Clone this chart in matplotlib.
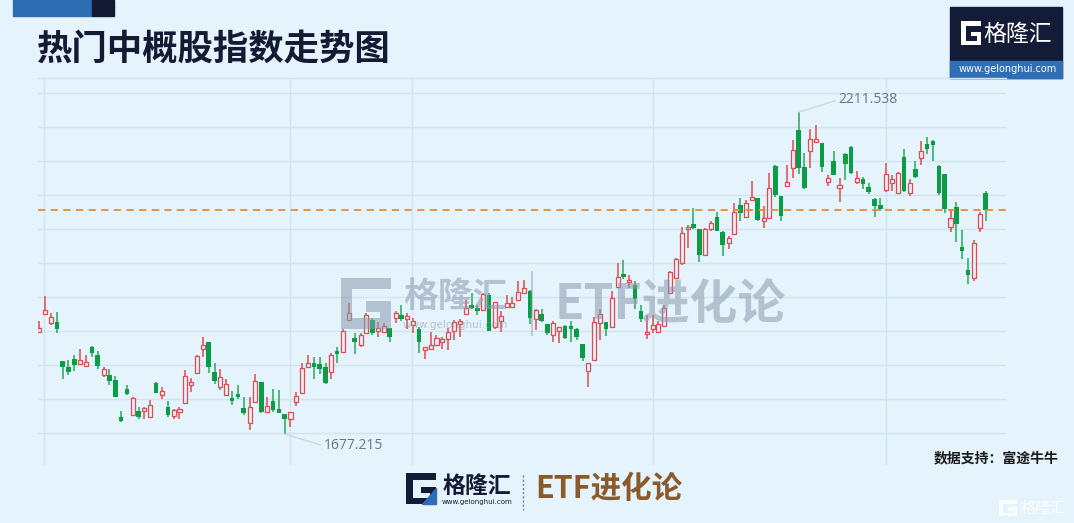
import numpy as np
import matplotlib.pyplot as plt
from matplotlib.patches import Rectangle, Polygon

plt.rcParams['font.family'] = ['Noto Sans CJK SC', 'DejaVu Sans']

# daily OHLC of the index
opens = [1847.2, 1876.0, 1862.1, 1863.8, 1799.0, 1787.9, 1801.2, 1794.0, 1789.6, 1821.7,
         1809.0, 1774.6, 1775.2, 1766.9, 1704.9, 1752.5, 1709.3, 1715.9, 1714.8, 1705.4,
         1761.4, 1742.5, 1722.0, 1707.1, 1714.3, 1728.1, 1758.0, 1779.1, 1818.4, 1829.5,
         1779.6, 1755.8, 1741.4, 1736.4, 1743.6, 1720.4, 1696.0, 1729.8, 1763.6, 1713.7,
         1732.0, 1718.7, 1709.9, 1701.6, 1730.9, 1744.7, 1787.9, 1795.6, 1793.4, 1789.0,
         1780.1, 1815.0, 1813.4, 1866.0, 1836.6, 1825.5, 1844.4, 1866.5, 1847.7, 1846.6,
         1852.7, 1869.8, 1875.4, 1867.6, 1857.7, 1852.1, 1816.7, 1817.8, 1825.5, 1830.0,
         1835.5, 1847.7, 1859.9, 1876.5, 1892.0, 1887.0, 1883.1, 1908.6, 1854.3, 1865.4,
         1888.7, 1888.7, 1899.7, 1911.9, 1915.2, 1867.6, 1876.5, 1859.9, 1841.1, 1848.8,
         1856.6, 1856.6, 1852.1, 1826.7, 1781.8, 1800.1, 1862.1, 1863.8, 1854.9, 1921.9,
         1943.0, 1929.1, 1924.1, 1882.0, 1843.3, 1852.2, 1846.6, 1856.6, 1910.8, 1935.8,
         1961.5, 2017.2, 2026.0, 2017.7, 1974.5, 2018.3, 2037.6, 2012.7, 1993.9, 2009.4,
         2057.6, 2037.1, 2066.4, 2069.2, 2031.6, 2035.4, 2121.8, 2072.0, 2089.1, 2118.5,
         2182.2, 2120.2, 2147.3, 2161.7, 2160.0, 2095.2, 2130.1, 2086.4, 2142.3, 2154.5,
         2095.2, 2101.3, 2088.0, 2067.6, 2057.0, 2082.5, 2093.6, 2078.1, 2136.8, 2077.0,
         2116.8, 2135.1, 2158.4, 2164.4, 2121.8, 2109.1, 2021.6, 2053.7, 1987.3, 1949.6,
         1935.8, 2018.8, 2078.1]
highs = [1865.4, 1906.4, 1877.6, 1879.8, 1799.0, 1800.1, 1809.0, 1817.8, 1807.9, 1823.4,
         1815.1, 1787.9, 1784.6, 1773.5, 1715.9, 1758.0, 1738.1, 1722.6, 1722.6, 1733.7,
         1763.6, 1754.7, 1731.5, 1719.3, 1722.6, 1783.5, 1770.2, 1809.0, 1837.8, 1830.6,
         1794.6, 1784.6, 1769.1, 1749.2, 1758.0, 1739.2, 1738.1, 1776.3, 1763.6, 1738.1,
         1752.5, 1749.7, 1709.9, 1713.2, 1746.9, 1795.6, 1808.9, 1804.5, 1804.5, 1794.5,
         1812.3, 1822.2, 1852.1, 1895.3, 1844.9, 1844.4, 1877.6, 1870.4, 1863.2, 1861.0,
         1852.7, 1881.5, 1890.9, 1877.6, 1869.3, 1854.3, 1822.2, 1846.6, 1841.1, 1837.7,
         1853.2, 1866.5, 1867.6, 1899.7, 1910.8, 1890.9, 1911.9, 1910.8, 1897.0, 1880.9,
         1908.6, 1905.3, 1930.8, 1933.0, 1916.4, 1885.3, 1885.3, 1859.9, 1865.4, 1855.5,
         1857.7, 1865.4, 1853.3, 1826.7, 1795.1, 1871.0, 1885.4, 1863.8, 1914.2, 1960.7,
         1966.2, 1941.8, 1930.8, 1890.9, 1874.3, 1874.3, 1864.3, 1892.0, 1948.5, 1969.0,
         2021.6, 2024.9, 2052.0, 2017.7, 2018.8, 2031.6, 2046.0, 2014.9, 2006.6, 2061.5,
         2069.2, 2065.9, 2097.5, 2069.2, 2056.5, 2110.2, 2123.5, 2072.0, 2123.5, 2165.6,
         2211.538, 2143.4, 2183.3, 2191.0, 2160.0, 2108.0, 2147.8, 2102.4, 2143.4, 2155.6,
         2113.5, 2103.5, 2093.6, 2068.7, 2068.7, 2126.8, 2107.4, 2113.0, 2150.1, 2101.3,
         2130.1, 2163.3, 2171.1, 2165.6, 2124.6, 2109.1, 2050.4, 2062.6, 2016.1, 1969.0,
         1999.4, 2046.0, 2080.3]
lows = [1844.4, 1876.0, 1857.7, 1844.4, 1768.0, 1775.7, 1782.4, 1793.5, 1789.0, 1805.6,
        1784.6, 1771.3, 1758.6, 1738.1, 1697.7, 1741.4, 1709.3, 1701.6, 1701.6, 1704.9,
        1744.7, 1734.8, 1704.9, 1701.6, 1701.6, 1727.0, 1747.0, 1778.0, 1804.5, 1778.0,
        1760.2, 1750.3, 1741.4, 1724.8, 1734.8, 1709.3, 1683.8, 1729.2, 1711.5, 1712.6,
        1714.3, 1711.5, 1677.215, 1688.3, 1724.2, 1744.7, 1786.8, 1768.0, 1776.8, 1760.2,
        1769.1, 1795.6, 1813.4, 1865.4, 1809.5, 1822.2, 1844.4, 1842.2, 1838.8, 1845.5,
        1830.0, 1862.1, 1864.3, 1852.1, 1844.4, 1812.3, 1802.3, 1817.8, 1824.4, 1817.8,
        1816.7, 1833.3, 1837.7, 1875.4, 1885.3, 1875.4, 1883.1, 1848.8, 1852.1, 1846.6,
        1887.6, 1886.5, 1898.6, 1909.7, 1859.9, 1849.9, 1863.2, 1841.1, 1830.0, 1827.8,
        1834.4, 1830.0, 1833.3, 1799.0, 1754.7, 1800.1, 1833.3, 1840.0, 1854.9, 1920.8,
        1935.2, 1919.1, 1884.3, 1863.2, 1834.4, 1845.5, 1844.4, 1856.6, 1910.8, 1935.2,
        1957.4, 1986.2, 2018.3, 1962.9, 1974.5, 2014.9, 2013.8, 1972.9, 1985.0, 2009.4,
        2031.6, 2036.0, 2066.0, 2031.6, 2019.9, 2035.4, 2071.4, 2031.6, 2088.0, 2101.9,
        2109.1, 2084.7, 2119.0, 2161.1, 2112.4, 2089.7, 2106.9, 2063.1, 2099.1, 2109.1,
        2093.0, 2084.7, 2075.9, 2038.2, 2048.2, 2078.6, 2081.4, 2077.0, 2079.2, 2073.1,
        2102.4, 2124.0, 2142.3, 2130.7, 2074.7, 2043.7, 2012.7, 1996.1, 1967.3, 1926.4,
        1930.8, 2012.7, 2031.6]
closes = [1853.8, 1882.6, 1872.1, 1851.6, 1789.0, 1780.7, 1792.4, 1799.6, 1797.3, 1811.2,
          1790.7, 1785.7, 1765.8, 1738.1, 1699.3, 1743.6, 1737.0, 1704.9, 1720.4, 1725.9,
          1745.8, 1749.2, 1709.3, 1717.1, 1719.3, 1774.1, 1763.6, 1807.3, 1824.5, 1787.9,
          1764.7, 1772.4, 1759.7, 1731.5, 1738.1, 1712.6, 1722.0, 1765.2, 1713.7, 1723.7,
          1717.1, 1712.6, 1701.6, 1713.2, 1740.8, 1786.2, 1795.6, 1789.0, 1785.7, 1761.3,
          1808.9, 1809.5, 1848.3, 1878.7, 1830.0, 1841.1, 1874.3, 1845.5, 1853.2, 1856.6,
          1837.7, 1877.6, 1868.7, 1873.2, 1864.3, 1830.0, 1821.1, 1824.4, 1836.6, 1835.0,
          1846.6, 1863.2, 1865.4, 1885.9, 1886.5, 1880.9, 1909.2, 1848.8, 1895.9, 1873.2,
          1894.2, 1894.2, 1913.6, 1920.2, 1869.3, 1882.6, 1864.3, 1845.5, 1862.1, 1854.4,
          1836.6, 1851.0, 1838.9, 1803.4, 1795.1, 1863.8, 1876.5, 1852.1, 1902.5, 1938.5,
          1937.4, 1933.5, 1900.9, 1868.8, 1847.2, 1857.7, 1859.9, 1886.5, 1946.3, 1968.4,
          2011.6, 2021.6, 2019.4, 1974.5, 2017.7, 2027.1, 2014.9, 1990.6, 2002.2, 2046.0,
          2044.8, 2060.4, 2071.4, 2032.7, 2035.4, 2085.3, 2073.6, 2039.9, 2096.3, 2148.9,
          2119.6, 2085.8, 2166.7, 2166.7, 2121.3, 2102.4, 2108.0, 2090.8, 2125.7, 2111.3,
          2102.4, 2091.9, 2079.2, 2056.5, 2051.5, 2109.6, 2100.2, 2111.3, 2080.3, 2093.6,
          2104.6, 2147.8, 2151.2, 2157.3, 2077.0, 2050.9, 2036.5, 2025.5, 1981.7, 1940.8,
          1993.9, 2043.2, 2049.3]

title = '热门中概股指数走势图'
source = '数据支持：富途牛牛'

W, H = 1074, 523
bg = '#e4f3fc'
grid_c = '#d2e4f0'
up_c = '#e5484d'
dn_c = '#0a9d45'

o = np.array(opens)
h = np.array(highs)
l = np.array(lows)
c = np.array(closes)
x = np.arange(len(o))
up = c >= o

fig = plt.figure(figsize=(W / 100, H / 100), dpi=100, facecolor=bg)
ax = fig.add_axes([38.3 / W, 1 - 465 / H, (1006 - 38.3) / W, (465 - 78) / H])
ax.set_facecolor(bg)

# wicks
ax.vlines(x[up], l[up], h[up], color=up_c, lw=1.1, zorder=2)
ax.vlines(x[~up], l[~up], h[~up], color='#34b066', lw=1.2, zorder=2)
# bodies: hollow red for up days, solid green for down days
ax.bar(x[up], np.maximum(c - o, 0.8)[up], bottom=o[up], width=0.7,
       facecolor=bg, edgecolor=up_c, lw=0.9, zorder=3)
ax.bar(x[~up], np.maximum(o - c, 0.8)[~up], bottom=c[~up], width=0.78,
       color=dn_c, lw=0, zorder=3)

# last price line
ax.axhline(c[-1], color='#f0872c', lw=1.3, ls=(0, (4, 3)), zorder=4)

hi = int(np.argmax(h))
lo = int(np.argmin(l))
lab = dict(fontsize=10, color='#67748a', family=['Open Sans', 'DejaVu Sans'],
           ha='left', va='center', textcoords='offset points')
line = dict(arrowstyle='-', color='#c5d3e0', lw=0.8, shrinkA=0, shrinkB=0,
            relpos=(0, 0.5))
ax.annotate(f'{h[hi]:.3f}', xy=(hi, h[hi]), xytext=(28.5, 9.1),
            arrowprops=line, **lab)
ax.annotate(f'{l[lo]:.3f}', xy=(lo, l[lo]), xytext=(28, -8.6),
            arrowprops=line, **lab)

ax.set_xlim(-0.17, 165.5)
ax.set_ylim(1625.7, 2268.5)
ax.set_yticks(np.linspace(1678.4, 2243.1, 11))
ax.set_xticks([0.86, 42.9, 63.85, 105, 144.9])
ax.grid(True, color=grid_c, lw=1)
ax.set_axisbelow(True)
ax.tick_params(length=0, labelbottom=False, labelleft=False)
for s in ax.spines.values():
    s.set_visible(False)

# decorations in pixel coordinates
deco = fig.add_axes([0, 0, 1, 1], zorder=5)
deco.set_xlim(0, W)
deco.set_ylim(H, 0)
deco.axis('off')


def draw_g(x0, y0, w, hh, color, t, alpha=1.0):
    x1, y1 = x0 + w, y0 + hh
    ym, xm = y0 + 0.45 * hh, x0 + 0.5 * w
    pts = [(x0, y0), (x1, y0), (x1, y0 + t), (x0 + t, y0 + t), (x0 + t, y1 - t),
           (x1 - t, y1 - t), (x1 - t, ym + t), (xm, ym + t), (xm, ym), (x1, ym),
           (x1, y1), (x0, y1)]
    deco.add_patch(Polygon(pts, closed=True, facecolor=color, edgecolor='none',
                           alpha=alpha))


deco.add_patch(Rectangle((12.7, 0), 79, 16, color='#2e6db4'))
deco.add_patch(Rectangle((91.7, 0), 22.6, 16, color='#141a33'))
deco.plot([38, 1006], [78.3, 78.3], color=grid_c, lw=1)
deco.text(37, 49, title, fontsize=25.5, fontweight='bold', color='#141a33',
          ha='left', va='center')

# top right logo
deco.add_patch(Rectangle((950, 7.3), 112.3, 71, color='#141b36'))
deco.add_patch(Rectangle((950, 61), 112.3, 17.3, color='#2f6db5'))
draw_g(961, 21, 20, 24, 'white', 4.5)
deco.text(1018, 34, '格隆汇', fontsize=16.5, color='white', ha='center',
          va='center')
deco.text(1008, 69.5, 'www.gelonghui.com', fontsize=7, color='white',
          ha='center', va='center', family='DejaVu Sans')

# central watermark
wm, wa = '#8c9aad', 0.55
draw_g(341, 278, 50, 51, wm, 11, wa)
deco.text(455.5, 296.7, '格隆汇', fontsize=25, fontweight='bold', color=wm,
          alpha=wa, ha='center', va='center')
deco.text(455.5, 325.3, 'www.gelonghui.com', fontsize=7.5, color=wm, alpha=wa,
          ha='center', va='center', family='DejaVu Sans')
deco.plot([531.7, 531.7], [272, 335], color=wm, alpha=wa, lw=1.2)
deco.text(555, 305, 'ETF进化论', fontsize=34.5, fontweight='bold', color=wm,
          alpha=wa, ha='left', va='center')

# footer
deco.text(1059, 458.3, source, fontsize=10, fontweight='bold', color='#1a1a1a',
          ha='right', va='center')
draw_g(406, 473, 30, 31, '#141b36', 6.5)
deco.add_patch(Polygon([(436, 488), (436, 504), (422, 504)], color='#2f6db5'))
deco.text(477, 486, '格隆汇', fontsize=16.5, fontweight='bold', color='#141b36',
          ha='center', va='center')
deco.text(477, 501.7, 'www.gelonghui.com', fontsize=5, color='#141b36',
          ha='center', va='center', family='DejaVu Sans')
deco.plot([523.3, 523.3], [475, 510], color='#6b7fa8', lw=1, ls=(0, (1.5, 1.5)))
deco.text(535, 489, 'ETF进化论', fontsize=22, fontweight='bold', color='#8b5a2b',
          ha='left', va='center')

draw_g(999, 500, 18, 16, 'white', 3.5, 0.85)
deco.text(1021, 508, '格隆汇', fontsize=11, color='white', alpha=0.85,
          ha='left', va='center')

fig.savefig('out.png', dpi=100, facecolor=bg)
